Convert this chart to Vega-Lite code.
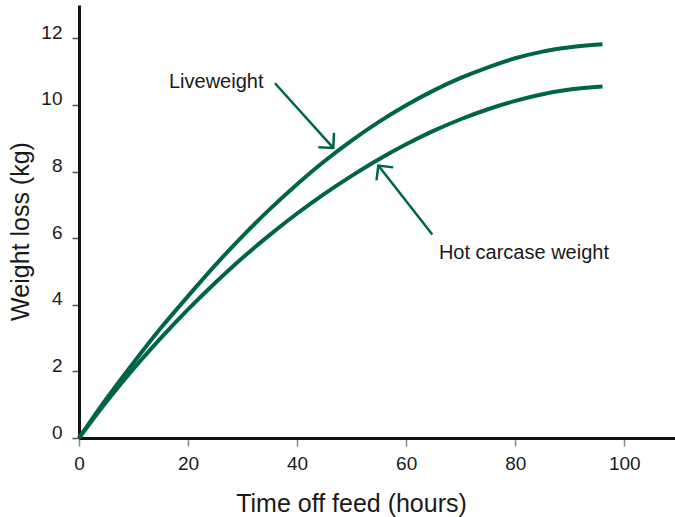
{
  "$schema": "https://vega.github.io/schema/vega-lite/v6.json",
  "width": 596,
  "height": 433,
  "autosize": {"type": "none"},
  "padding": {"left": 79, "top": 5, "right": 0, "bottom": 79},
  "background": "white",
  "config": {
    "view": {"stroke": null},
    "font": "Liberation Sans",
    "axis": {"grid": false, "labelFlush": false, "labelOverlap": false, "labelFont": "Liberation Sans", "titleFont": "Liberation Sans", "labelColor": "#1a1a1a", "titleColor": "#1a1a1a", "titleFontWeight": "normal", "domainColor": "#111111", "domainWidth": 3, "labelFontSize": 19, "titleFontSize": 25}
  },
  "datasets": {
    "curves": [
      {"series": "Liveweight", "hours": 0, "loss": 0},
      {"series": "Liveweight", "hours": 5, "loss": 1.17},
      {"series": "Liveweight", "hours": 10, "loss": 2.26},
      {"series": "Liveweight", "hours": 15, "loss": 3.30},
      {"series": "Liveweight", "hours": 20, "loss": 4.26},
      {"series": "Liveweight", "hours": 25, "loss": 5.19},
      {"series": "Liveweight", "hours": 30, "loss": 6.06},
      {"series": "Liveweight", "hours": 35, "loss": 6.87},
      {"series": "Liveweight", "hours": 40, "loss": 7.62},
      {"series": "Liveweight", "hours": 45, "loss": 8.31},
      {"series": "Liveweight", "hours": 50, "loss": 8.93},
      {"series": "Liveweight", "hours": 55, "loss": 9.49},
      {"series": "Liveweight", "hours": 60, "loss": 9.99},
      {"series": "Liveweight", "hours": 65, "loss": 10.43},
      {"series": "Liveweight", "hours": 70, "loss": 10.81},
      {"series": "Liveweight", "hours": 75, "loss": 11.13},
      {"series": "Liveweight", "hours": 80, "loss": 11.40},
      {"series": "Liveweight", "hours": 85, "loss": 11.60},
      {"series": "Liveweight", "hours": 90, "loss": 11.73},
      {"series": "Liveweight", "hours": 96, "loss": 11.82},
      {"series": "Hot carcase weight", "hours": 0, "loss": 0},
      {"series": "Hot carcase weight", "hours": 5, "loss": 1.08},
      {"series": "Hot carcase weight", "hours": 10, "loss": 2.08},
      {"series": "Hot carcase weight", "hours": 15, "loss": 3.00},
      {"series": "Hot carcase weight", "hours": 20, "loss": 3.86},
      {"series": "Hot carcase weight", "hours": 25, "loss": 4.66},
      {"series": "Hot carcase weight", "hours": 30, "loss": 5.41},
      {"series": "Hot carcase weight", "hours": 35, "loss": 6.10},
      {"series": "Hot carcase weight", "hours": 40, "loss": 6.74},
      {"series": "Hot carcase weight", "hours": 45, "loss": 7.33},
      {"series": "Hot carcase weight", "hours": 50, "loss": 7.87},
      {"series": "Hot carcase weight", "hours": 55, "loss": 8.37},
      {"series": "Hot carcase weight", "hours": 60, "loss": 8.82},
      {"series": "Hot carcase weight", "hours": 65, "loss": 9.22},
      {"series": "Hot carcase weight", "hours": 70, "loss": 9.57},
      {"series": "Hot carcase weight", "hours": 75, "loss": 9.87},
      {"series": "Hot carcase weight", "hours": 80, "loss": 10.12},
      {"series": "Hot carcase weight", "hours": 85, "loss": 10.32},
      {"series": "Hot carcase weight", "hours": 90, "loss": 10.46},
      {"series": "Hot carcase weight", "hours": 96, "loss": 10.55}
    ],
    "arrows": [
      {"name": "Liveweight", "tailX": 35.94, "tailY": 10.65, "tipX": 46.63, "tipY": 8.71},
      {"name": "Hot carcase weight", "tailX": 64.79, "tailY": 6.11, "tipX": 54.89, "tipY": 8.18}
    ],
    "labels": [
      {"text": "Liveweight", "hours": 16.5, "loss": 10.52},
      {"text": "Hot carcase weight", "hours": 66.0, "loss": 5.37}
    ]
  },
  "layer": [
    {
      "data": {"name": "curves"},
      "mark": {"type": "line", "color": "#006548", "strokeWidth": 4, "interpolate": "monotone", "strokeCap": "butt"},
      "encoding": {
        "x": {"field": "hours", "type": "quantitative", "scale": {"domain": [0, 109.3], "nice": false},
          "axis": {"values": [0, 20, 40, 60, 80, 100], "title": "Time off feed (hours)", "tickColor": "#888888", "tickSize": 8, "tickWidth": 1.5, "labelPadding": 8, "titleX": 272, "titleY": 73, "titleAlign": "center", "titleBaseline": "alphabetic", "titleAnchor": null}},
        "y": {"field": "loss", "type": "quantitative", "scale": {"domain": [0, 13], "nice": false},
          "axis": {"values": [0, 2, 4, 6, 8, 10, 12], "title": "Weight loss (kg)", "tickColor": "#555555", "tickSize": 7, "tickWidth": 1.5, "labelPadding": 10, "labelBaseline": "alphabetic", "titleAngle": -90, "titleX": -51, "titleY": 226, "titleAlign": "center", "titleBaseline": "alphabetic"}},
        "detail": {"field": "series", "type": "nominal"}
      }
    },
    {
      "data": {"name": "arrows"},
      "mark": {"type": "rule", "color": "#006548", "strokeWidth": 2.5},
      "encoding": {
        "x": {"field": "tailX", "type": "quantitative"},
        "y": {"field": "tailY", "type": "quantitative"},
        "x2": {"field": "tipX"},
        "y2": {"field": "tipY"}
      }
    },
    {
      "data": {"name": "arrows"},
      "transform": [{"filter": "datum.name === 'Liveweight'"}],
      "mark": {"type": "point", "shape": "M-1,1L0,0L1,1", "filled": false, "color": "#006548", "strokeWidth": 2.5, "size": 450, "angle": 137.8, "opacity": 1},
      "encoding": {
        "x": {"field": "tipX", "type": "quantitative"},
        "y": {"field": "tipY", "type": "quantitative"}
      }
    },
    {
      "data": {"name": "arrows"},
      "transform": [{"filter": "datum.name === 'Hot carcase weight'"}],
      "mark": {"type": "point", "shape": "M-1,1L0,0L1,1", "filled": false, "color": "#006548", "strokeWidth": 2.5, "size": 450, "angle": 322, "opacity": 1},
      "encoding": {
        "x": {"field": "tipX", "type": "quantitative"},
        "y": {"field": "tipY", "type": "quantitative"}
      }
    },
    {
      "data": {"name": "labels"},
      "mark": {"type": "text", "align": "left", "baseline": "alphabetic", "fontSize": 20, "font": "Liberation Sans", "color": "#1a1a1a"},
      "encoding": {
        "x": {"field": "hours", "type": "quantitative"},
        "y": {"field": "loss", "type": "quantitative"},
        "text": {"field": "text"}
      }
    }
  ]
}
